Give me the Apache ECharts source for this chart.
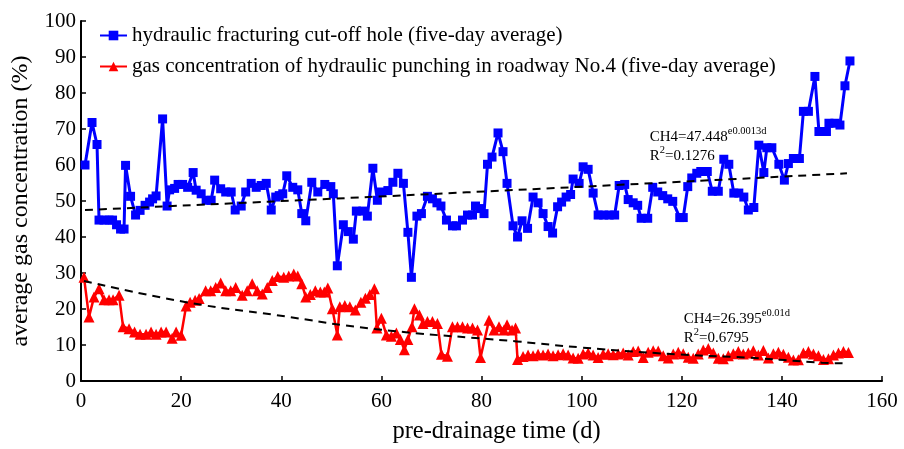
<!DOCTYPE html>
<html><head><meta charset="utf-8">
<script src="https://cdn.jsdelivr.net/npm/echarts@6/dist/echarts.min.js"></script>
<style>html,body{margin:0;padding:0;background:#fff}#c{width:904px;height:449px}</style>
</head><body><div id="c"></div>
<script>
const blueName = 'hydraulic fracturing cut-off hole (five-day average)';
const redName = 'gas concentration of hydraulic punching in roadway No.4 (five-day average)';

const blueDays = [0.8,2.2,3.2,3.6,4.6,5.6,6.3,7.1,7.9,8.6,8.9,9.9,10.9,11.8,12.8,13.7,14.3,15,16.3,17.2,17.7,18.7,19.4,20.3,21.3,22.4,23,24,25,26,26.7,27.9,28.9,30,30.8,32,32.9,34,35,36,37,38,38.9,39.6,40.3,41.1,42.3,43.3,44.1,44.9,46.1,47.3,48.7,49.9,50.4,51.2,52.4,53.4,54.4,55,56.3,57.2,58.3,59.2,60,61.3,62.3,63.3,64.4,65.3,66,67.1,68,69.2,70.2,71.1,71.9,73,74.2,75,76.2,77.2,78.2,78.8,79.7,80.5,81.2,82.1,83.3,84.3,85.1,86.3,87.2,88.1,89.2,90.3,91.3,92.3,93.3,94.2,95.2,96,96.9,97.8,98.3,99.5,100.3,101.3,102.3,103.3,104.4,105.5,106.6,107.5,108.6,109.3,110.3,111.2,111.9,113.2,114.2,115.2,116.2,117.2,118.2,119.6,120.3,121.2,122,123,123.8,125.1,126.1,127.3,128.4,129.4,130.4,131.4,132.4,133.3,134.4,135.4,136.4,137,138,139.4,140.5,141.3,142.3,143.5,144.3,145.3,146.6,147.4,148.9,149.4,150.6,151.6,152.6,153.6];
const blueValues = [60,71.8,65.7,44.7,44.7,44.7,44.7,43.4,42.2,42.2,59.9,51.3,46.1,47.4,48.8,49.7,50.6,51.4,72.8,48.6,53.1,53.5,54.6,54.6,53.8,57.9,53,52,50.2,50.2,55.8,53.4,52.5,52.5,47.5,48.6,52.5,54.9,53.8,54.3,54.9,47.5,51.1,51.5,52,57,53.8,53.1,46.5,44.5,55.2,52.5,54.6,54,52,32,43.4,41.5,39.4,47.2,47.2,45.8,59.1,50.2,52.5,52.9,55.2,57.7,54.9,41.3,28.8,45.8,46.5,51.3,50.6,49.5,48.6,44.7,43.1,43.1,44.7,46.1,46.1,48.6,47.9,46.5,60.2,62.2,68.9,63.7,54.9,43.1,40,44.5,42.4,51.1,49.5,46.5,42.9,41.1,48.4,49.7,51.1,51.8,56.1,54.9,59.5,58.8,52.2,46.1,46.1,46.1,46.1,54.3,54.6,50.4,49.5,48.8,45.2,45.2,53.8,52.5,51.5,50.6,49.9,45.4,45.4,54,56.4,57.7,58.2,58.2,52.7,52.7,61.6,60.2,52.2,52.2,51.1,47.5,48.2,65.5,57.9,64.8,64.8,60.2,55.8,60.4,61.8,61.8,74.9,74.9,84.6,69.3,69.3,71.6,71.6,71.1,82,88.9];

const redDays = [0.6,1.6,2.6,3.6,4.6,5.6,6.4,7.6,8.4,9.6,10.7,11.8,13,14,15,16,17,18.2,19,20,21,21.8,22.8,23.6,24.9,25.9,26.9,27.9,28.9,29.9,30.9,32.2,33.2,34.2,35.2,36.2,37.2,38.2,39.3,40.5,41.5,42.5,43.3,44.1,44.9,45.8,46.8,47.8,48.6,49.3,50.2,51.2,51.7,52.7,53.7,54.8,55.9,56.8,57.7,58.6,59.1,60,61,62,63,63.8,64.6,65.3,66.1,66.6,67.6,68.3,69.2,70.2,71.2,72,73.2,74.2,75.2,76.2,77.2,78.2,79.2,79.8,81.5,82.5,83.5,84.5,85.1,86.1,86.8,87.2,88.3,89.3,90.3,91.3,92.3,93.3,94.3,95.3,96.3,97.3,98.3,99.3,100.3,101.3,102.3,103.3,104.3,105.3,106.3,107.3,108.3,109.3,110.3,111.3,112.3,113.3,114.3,115.3,116.3,117.3,118.3,119.3,120.3,121.3,122.3,123.3,124.3,125.3,126.3,127.3,128.3,129.3,130.3,131.3,132.3,133.3,134.3,135.3,136.3,137.3,138.3,139.3,140.3,141.3,142.3,143.3,144.3,145.3,146.3,147.3,148.3,149.3,150.3,151.3,152.3,153.3];
const redValues = [28.8,17.8,23.3,25.6,22.6,22.6,22.6,23.8,15.1,14.5,13.6,13,13,13.6,13,13.6,13.6,11.9,13.6,12.7,20.8,21.9,22.4,22.9,25.1,25.1,26,27.2,25.1,25.1,26,23.8,25.1,27,25.1,24.2,26,27.9,29,28.8,29.2,29.7,29.2,27,23.3,24,25.1,24.7,24.7,25.8,20.1,12.8,20.6,21,20.6,19.7,21.9,23,24,25.6,14.7,17.4,12.8,12.4,13.3,11.5,8.7,11.5,15.1,20.1,18.3,16,16.5,16.5,16,7.4,6.9,15.1,15.1,15.1,14.7,14.7,14.2,6.5,16.9,14.2,15.1,14.2,15.6,14.2,14.7,6,6.8,7.2,7.0,7.4,7.2,7.5,7.0,7.3,7.6,7.2,6.4,6.3,7.5,7.8,7.2,6.5,7.4,7.6,7.3,7.5,7.8,7.2,8.2,8.3,6.5,8.0,8.4,8.3,7.0,6.4,7.5,8.0,7.6,6.6,6.3,7.5,8.6,9.0,7.8,6.3,6.2,7.0,7.6,8.2,7.5,7.8,8.4,7.2,8.5,6.4,7.6,8.0,7.4,6.6,5.8,5.9,7.8,8.2,7.5,7.0,6.0,6.2,7.2,7.8,8.2,7.9];

// trend lines
const blueTrendDays = [0.8, 77, 153];
const blueTrendValues = [47.5, 52.4, 57.7];
const redTrendDays = [0.6, 21, 39, 59, 87, 100, 119, 133, 148, 153];
const redTrendValues = [27.8, 21.9, 18.3, 14.4, 11.0, 9.3, 7.4, 6.5, 5.1, 4.9];

const blueEq = {main: 'CH4=47.448', sup: 'e0.0013d', r2: '=0.1276', pos: [113.6, 71.0]};
const redEq = {main: 'CH4=26.395', sup: 'e0.01d', r2: '=0.6795', pos: [120.4, 20.3]};

const zip = (a, b) => a.map((v, i) => [v, b[i]]);
const serif = "'Liberation Serif','Times New Roman',serif";

const chart = echarts.init(document.getElementById('c'));
const axisCommon = {
  type: 'value',
  axisLine: {show: true, lineStyle: {color: '#000', width: 2}},
  axisTick: {show: true, inside: true, length: 5, lineStyle: {color: '#000', width: 1.5}},
  axisLabel: {fontFamily: serif, fontSize: 21, color: '#000'},
  splitLine: {show: false},
  nameLocation: 'middle',
  nameTextStyle: {fontFamily: serif, fontSize: 24, color: '#000'}
};
chart.setOption({
  animation: false,
  grid: {left: 81, right: 22, top: 21, bottom: 62},
  legend: {
    left: 94, top: 20, orient: 'vertical', itemWidth: 27, itemHeight: 12, itemGap: 10,
    textStyle: {fontFamily: serif, fontSize: 21, color: '#000'},
    data: [blueName, redName]
  },
  xAxis: Object.assign({}, axisCommon, {
    min: 0, max: 160, interval: 20, name: 'pre-drainage time (d)', nameGap: 38,
    nameTextStyle: Object.assign({}, axisCommon.nameTextStyle, {fontSize: 24.5, padding: [0, 0, 0, 30]}),
    axisLabel: Object.assign({}, axisCommon.axisLabel, {margin: 10})
  }),
  yAxis: Object.assign({}, axisCommon, {
    min: 0, max: 100, interval: 10, name: 'average gas concentration (%)', nameGap: 48,
    axisLabel: Object.assign({}, axisCommon.axisLabel, {margin: 5})
  }),
  series: [
    {name: redName, type: 'line', data: zip(redDays, redValues), symbol: 'triangle', symbolSize: 11,
     itemStyle: {color: '#ff0000'}, lineStyle: {color: '#ff0000', width: 2.5}, z: 2},
    {name: blueName, type: 'line', data: zip(blueDays, blueValues), symbol: 'rect', symbolSize: 9,
     itemStyle: {color: '#0000ff'}, lineStyle: {color: '#0000ff', width: 3}, z: 3},
    {name: 'blueTrend', type: 'line', data: zip(blueTrendDays, blueTrendValues), symbol: 'none', smooth: true,
     lineStyle: {color: '#000', width: 2, type: [8, 6]}, z: 4},
    {name: 'redTrend', type: 'line', data: zip(redTrendDays, redTrendValues), symbol: 'none', smooth: true,
     lineStyle: {color: '#000', width: 2, type: [8, 6]}, z: 4}
  ]
});

function eqGraphic(eq) {
  const p = chart.convertToPixel({gridIndex: 0}, eq.pos);
  return {
    type: 'text', x: p[0], y: p[1], z: 10,
    style: {
      text: '{m|' + eq.main + '}{s|' + eq.sup + '}\n{m|R}{s|2}{m|' + eq.r2 + '}',
      rich: {
        m: {fontFamily: serif, fontSize: 15, fill: '#000', color: '#000', lineHeight: 19, verticalAlign: 'bottom'},
        s: {fontFamily: serif, fontSize: 10.5, fill: '#000', color: '#000', lineHeight: 19, verticalAlign: 'top'}
      }
    }
  };
}
chart.setOption({graphic: [eqGraphic(blueEq), eqGraphic(redEq)]});
</script></body></html>
